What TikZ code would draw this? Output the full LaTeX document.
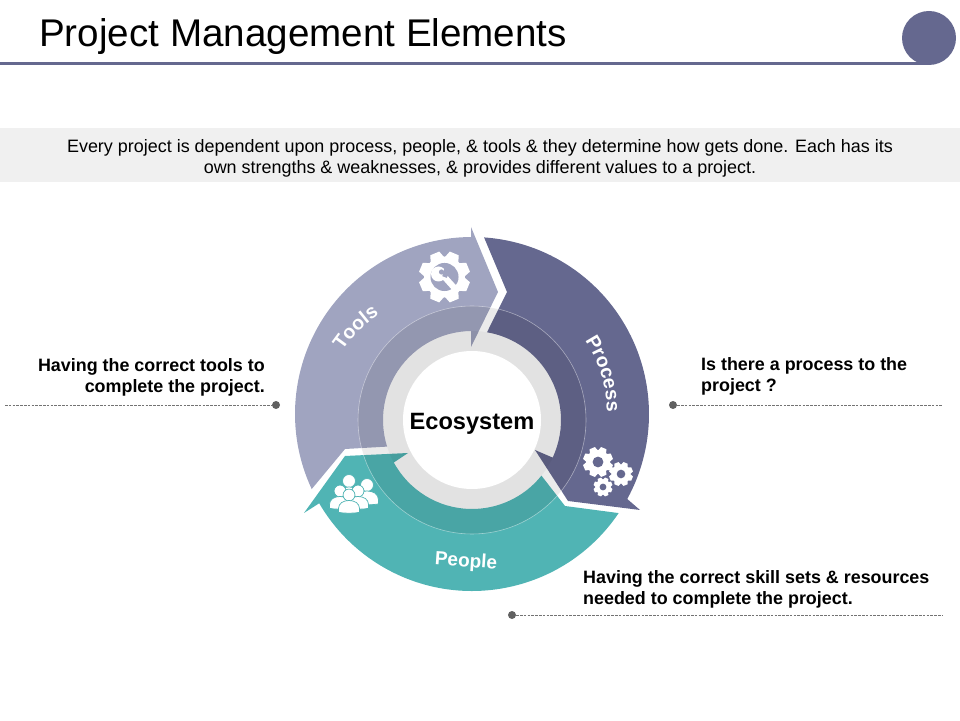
\documentclass[tikz,border=0pt]{standalone}
\usepackage{fontspec}
\setmainfont{Liberation Sans}
\usetikzlibrary{calc,decorations.text}
\definecolor{procblue}{HTML}{65688F}
\definecolor{toolblue}{HTML}{A0A4C0}
\definecolor{peopleteal}{HTML}{50B4B4}
\definecolor{bandgray}{HTML}{F0F0F0}
\tikzset{
 leaderline/.style={draw=black!55,line width=0.7pt,dash pattern=on 2.6pt off 1.2pt},
 leaderdot/.style={circle,fill=black!62,minimum size=8pt,inner sep=0pt},
 notelabel/.style={font=\bfseries\fontsize{17.9}{21.5}\selectfont,text=black},
 armlabel/.style={font=\bfseries\fontsize{19}{20}\selectfont,text=white},
 armarc/.style 2 args={postaction={decorate,decoration={text along path,text align=center,text={|\bfseries\fontsize{#1}{20}\selectfont\color{white}|#2}}}},
}
\newcommand{\gearglyph}[5]{
 \begin{scope}[shift={(#1,#2)},scale=#3]
 \fill[white] (0,0) circle[radius=0.8];
 \foreach \a in {0,45,...,315}
  \fill[white,rotate=\a+22.5] (-0.3,0.68) -- (-0.19,1) -- (0.19,1) -- (0.3,0.68) -- cycle;
 \fill[#4] (0,0) circle[radius=#5];
 \end{scope}
}
\newcommand{\personglyph}[3]{
 \begin{scope}[shift={(#1,#2)},scale=#3]
 \filldraw[white,draw=peopleteal,line width=0.7pt] (0,0) circle[radius=1.08];
 \filldraw[white,draw=peopleteal,line width=0.7pt] (-1.9,-3.15) -- (-1.9,-2.4) .. controls (-1.9,-1.5) and (-1,-1) .. (0,-1) .. controls (1,-1) and (1.9,-1.5) .. (1.9,-2.4) -- (1.9,-3.15) .. controls (0.9,-3.35) and (-0.9,-3.35) .. (-1.9,-3.15) -- cycle;
 \end{scope}
}
\begin{document}
\begin{tikzpicture}[x=1pt,y=1pt]
\useasboundingbox (0,0) rectangle (960,720);
\coordinate (rim) at (472,306);
\coordinate (hub) at (472,300);
\node[anchor=base west,inner sep=0pt,font=\fontsize{38.6}{40}\selectfont] (title) at (39,673) {Project Management Elements};
\draw[procblue,line width=3pt] (0,656.5) -- (930,656.5);
\fill[procblue] (929,682) circle[radius=27];
\fill[bandgray] (0,538) rectangle (960,592);
\node[align=center,inner sep=0pt,font=\fontsize{17.95}{21}\selectfont] (intro) at (480,561.5) {Every project is dependent upon process, people, \& tools \& they determine how gets done. Each has its\\own strengths \& weaknesses, \& provides different values to a project.};
\fill[toolblue] ($(rim)+(205.1:177)$) arc[start angle=205.1,end angle=90.3,radius=177] -- (471,493) -- (498,428) -- (471,373) -- ($(hub)+(90.5:89)$) arc[start angle=90.5,end angle=197.4,radius=89] -- (345,271) -- cycle;
\fill[peopleteal] (304,207) -- (345,264) -- (408,267) -- (393,257) -- ($(hub)+(208.6:89)$) arc[start angle=208.6,end angle=321.3,radius=89] -- (565,214) -- (618,207) -- ($(rim)+(325.9:177)$) arc[start angle=325.9,end angle=210.3,radius=177] -- cycle;
\fill[procblue] ($(rim)+(86.1:177)$) arc[start angle=86.1,end angle=-28.7,radius=177] -- (640,210) -- (568,219) -- (535,270) -- ($(hub)+(-25:89)$) arc[start angle=-25,end angle=80.3,radius=89] -- (507,428) -- cycle;
\fill[black,opacity=0.08] (hub) circle[radius=114];
\fill[black,opacity=0.04] (hub) circle[radius=89];
\draw[white,opacity=0.45,line width=0.6pt] (hub) circle[radius=114];
\fill[white] (hub) circle[radius=69];
\node[font=\bfseries\fontsize{23.6}{24}\selectfont] (eco) at (472,296.5) {Ecosystem};
\path[armarc={19.5}{Tools}] (445.9,300.6)+(160:124) arc[start angle=160,end angle=109,radius=124];
\path[armarc={19.5}{Process}] (rim)+(47:135) arc[start angle=47,end angle=-13,radius=135];
\node[armlabel,rotate=-4] (peoplelabel) at (466,158) {People};
\gearglyph{444.5}{443}{25.5}{toolblue}{0.55}
\begin{scope}[shift={(444.5,443)}]
 \fill[white] (-6,3) circle[radius=7.5];
 \fill[white,rotate=42] (-3,-20) rectangle (3,3);
 \fill[toolblue,rotate=-20] (-2.4,0) -- (-3.4,12) -- (3.4,12) -- (2.4,0) -- cycle;
 \fill[toolblue] (-3,5) circle[radius=2.6];
\end{scope}
\gearglyph{598}{258}{15}{procblue}{0.36}
\gearglyph{621}{246}{12}{procblue}{0.36}
\gearglyph{603}{233}{9.5}{procblue}{0.36}
\personglyph{367}{235}{6}
\personglyph{349}{239}{6}
\personglyph{340}{229}{5.5}
\personglyph{358}{229}{5.5}
\personglyph{349}{225}{5.5}
\node[notelabel,align=right,anchor=north east,inner sep=0pt] (toolsnote) at (265,362) {Having the correct tools to\\complete the project.};
\node[notelabel,align=left,anchor=north west,inner sep=0pt] (procnote) at (701,363) {Is there a process to the\\project ?};
\node[notelabel,align=left,anchor=north west,inner sep=0pt] (peoplenote) at (583,150) {Having the correct skill sets \& resources\\needed to complete the project.};
\node[leaderdot] (toolsdot) at (276,315) {};
\node[leaderdot] (procdot) at (673,315) {};
\node[leaderdot] (peopledot) at (512,105) {};
\coordinate (toolsend) at (5,315);
\coordinate (procend) at (943,315);
\coordinate (peopleend) at (943,105);
\draw[leaderline] (toolsend) -- (toolsdot);
\draw[leaderline] (procdot) -- (procend);
\draw[leaderline] (peopledot) -- (peopleend);
\end{tikzpicture}
\end{document}
